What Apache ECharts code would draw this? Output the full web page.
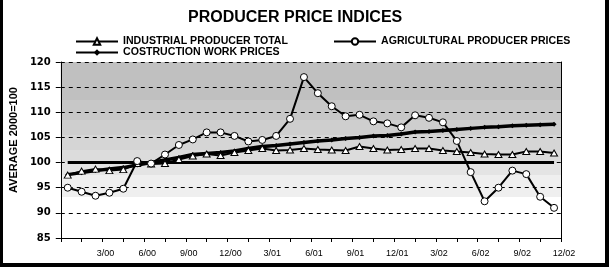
<!DOCTYPE html>
<html><head><meta charset="utf-8">
<script src="https://cdn.jsdelivr.net/npm/echarts@6/dist/echarts.min.js"></script>
<style>
html,body{margin:0;padding:0;background:#fff;}
#c{position:absolute;left:0;top:0;width:609px;height:267px;}
#frame{position:absolute;left:0;top:0;width:609px;height:267px;box-sizing:border-box;border-left:3px solid #000;border-right:4px solid #000;border-bottom:4px solid #000;pointer-events:none;}
</style></head><body>
<div id="c"></div><div id="frame"></div>
<script>
const months = ['1/00','2/00','3/00','4/00','5/00','6/00','7/00','8/00','9/00','10/00','11/00','12/00',
                '1/01','2/01','3/01','4/01','5/01','6/01','7/01','8/01','9/01','10/01','11/01','12/01',
                '1/02','2/02','3/02','4/02','5/02','6/02','7/02','8/02','9/02','10/02','11/02','12/02'];
const tickLabels = ['3/00','6/00','9/00','12/00','3/01','6/01','9/01','12/01','3/02','6/02','9/02','12/02'];
const industrial = [97.5,98.3,98.7,98.4,98.6,99.8,99.7,99.8,100.6,101.3,101.7,101.4,
                    102.0,102.4,102.8,102.4,102.5,102.8,102.6,102.5,102.4,103.2,102.8,102.5,
                    102.6,102.8,102.8,102.4,102.2,102.0,101.7,101.6,101.6,102.2,102.2,101.9];
const agricultural = [95.0,94.2,93.4,94.0,94.8,100.3,99.8,101.6,103.5,104.6,106.0,106.0,
                      105.3,104.2,104.5,105.3,108.7,117.0,113.8,111.2,109.2,109.5,108.2,107.8,
                      107.0,109.4,108.9,108.0,104.3,98.1,92.3,95.0,98.4,97.7,93.2,91.0];
const construction = [97.6,98.0,98.4,98.7,99.0,99.5,100.0,100.5,101.0,101.6,101.8,102.0,
                      102.3,102.8,103.2,103.4,103.7,104.0,104.3,104.5,104.8,105.0,105.3,105.4,
                      105.7,106.1,106.2,106.4,106.6,106.8,107.0,107.1,107.3,107.4,107.5,107.6];
const baseline = [100,100,100,100,100,100,100,100,100,100,100,100,
                  100,100,100,100,100,100,100,100,100,100,100,100,
                  100,100,100,100,100,100,100,100,100,100,100,100];
const names = ['INDUSTRIAL PRODUCER TOTAL','AGRICULTURAL PRODUCER PRICES','COSTRUCTION WORK PRICES'];

const pts = arr => arr.map((v,i) => [i + 0.5, v, months[i]]);
const legendText = {fontFamily:'Liberation Sans', fontWeight:'bold', fontSize:10.6, color:'#000'};
const legendBase = {itemWidth:42, itemHeight:8, padding:0, textStyle:legendText, selectedMode:false};

const chart = echarts.init(document.getElementById('c'), null, {renderer:'canvas'});
chart.setOption({
  animation:false,
  title:{text:'PRODUCER PRICE INDICES', left:183, top:5,
    textStyle:{fontFamily:'Liberation Sans', fontSize:16, fontWeight:'bold', color:'#000'}},
  legend:[
    Object.assign({data:[names[0]], left:75, top:36}, legendBase),
    Object.assign({data:[names[1]], left:333, top:36}, legendBase),
    Object.assign({data:[names[2]], left:75, top:47}, legendBase)
  ],
  grid:{left:57, right:48, top:62, bottom:29, show:true, borderWidth:0,
    backgroundColor:{type:'linear', x:0, y:0, x2:0, y2:1, colorStops:[
      {offset:0, color:'#c0c0c0'},{offset:0.214, color:'#c0c0c0'},
      {offset:0.214, color:'#c7c7c7'},{offset:0.328, color:'#c7c7c7'},
      {offset:0.328, color:'#cecece'},{offset:0.414, color:'#cecece'},
      {offset:0.414, color:'#d5d5d5'},{offset:0.5, color:'#d5d5d5'},
      {offset:0.5, color:'#dcdcdc'},{offset:0.571, color:'#dcdcdc'},
      {offset:0.571, color:'#e4e4e4'},{offset:0.643, color:'#e4e4e4'},
      {offset:0.643, color:'#efefef'},{offset:0.766, color:'#efefef'},
      {offset:0.766, color:'#ffffff'},{offset:1, color:'#ffffff'}]}},
  xAxis:{type:'value', min:0, max:36, interval:1.5, z:5,
    axisLine:{show:true, onZero:false, lineStyle:{color:'#000', width:1}},
    axisTick:{show:true, length:4, lineStyle:{color:'#000'}},
    axisLabel:{margin:11, fontFamily:'Liberation Sans', fontSize:9, color:'#000', padding:[0,0,0,6],
      formatter:function(v){const k=Math.round(v/1.5); return (k>0 && k%2===0) ? tickLabels[k/2-1] : '';}},
    splitLine:{show:false}},
  yAxis:[
    {type:'value', min:85, max:120, interval:5,
      name:'AVERAGE 2000=100', nameLocation:'middle', nameRotate:90, nameGap:26,
      nameTextStyle:{fontFamily:'Liberation Sans Narrow, Liberation Sans', fontWeight:'bold', fontSize:11, color:'#000', padding:[0,0,0,20]},
      axisLine:{show:true, lineStyle:{color:'#000', width:1}},
      axisTick:{show:true, length:5, lineStyle:{color:'#000'}},
      axisLabel:{margin:10, fontFamily:'DejaVu Sans', fontWeight:'bold', fontSize:10, color:'#000'},
      splitLine:{show:true, lineStyle:{color:'#000', width:1, type:[4,4]}}},
    {type:'value', min:85, max:120, interval:5, position:'right',
      axisLine:{show:true, lineStyle:{color:'#000', width:1}},
      axisTick:{show:false}, axisLabel:{show:false}, splitLine:{show:false}}
  ],
  series:[
    {name:'base', type:'line', data:pts(baseline), symbol:'none', silent:true,
      lineStyle:{color:'#000', width:3}, z:2},
    {name:names[2], type:'line', data:pts(construction), symbol:'diamond', symbolSize:5,
      lineStyle:{color:'#000', width:3.5}, itemStyle:{color:'#000'}, z:3},
    {name:names[0], type:'line', data:pts(industrial), symbol:'triangle', symbolSize:[7,6],
      lineStyle:{color:'#000', width:2}, itemStyle:{color:'#fff', borderColor:'#000', borderWidth:1}, z:4},
    {name:names[1], type:'line', data:pts(agricultural), symbol:'circle', symbolSize:7,
      lineStyle:{color:'#000', width:2}, itemStyle:{color:'#fff', borderColor:'#000', borderWidth:1}, z:5}
  ]
});
</script>
</body></html>
